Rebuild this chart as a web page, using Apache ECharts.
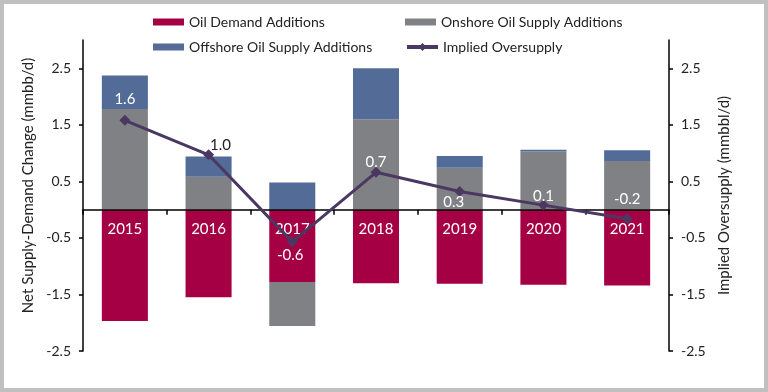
<!DOCTYPE html>
<html>
<head>
<meta charset="utf-8">
<script src="https://cdn.jsdelivr.net/npm/echarts@6/dist/echarts.min.js"></script>
<style>
  html, body { margin:0; padding:0; background:#c0c0c0; }
  #wrap { position:relative; width:768px; height:392px; background:#c0c0c0; }
  #chart { position:absolute; left:4px; top:4px; width:760px; height:384px; background:#ffffff; }
</style>
</head>
<body>
<div id="wrap"><div id="chart"></div></div>
<script>
const years = ['2015', '2016', '2017', '2018', '2019', '2020', '2021'];
const demandAdditions = [-1.97, -1.55, -1.28, -1.30, -1.31, -1.33, -1.34];
const onshoreAdditions = [1.78, 0.58, -0.78, 1.60, 0.74, 1.03, 0.86];
const offshoreAdditions = [0.59, 0.36, 0.48, 0.90, 0.21, 0.03, 0.19];
const impliedOversupply = [1.58, 0.97, -0.57, 0.66, 0.32, 0.08, -0.16];
const yTickValues = [-2.5, -1.5, -0.5, 0.5, 1.5, 2.5];

// label placement styles for the line's value labels (presentation only)
const lineLabelStyles = [
  { offset: [0, -21], color: '#ffffff' },
  { offset: [12, -10], color: '#222222' },
  { offset: [-2, 13], color: '#ffffff' },
  { offset: [0, -10], color: '#ffffff' },
  { offset: [-6, 11], color: '#ffffff' },
  { offset: [0, -9], color: '#ffffff' },
  { offset: [0, -20], color: '#ffffff' }
];

const FONT = 'Lato';
const chart = echarts.init(document.getElementById('chart'), null, { renderer: 'canvas' });

const yAxisCommon = {
  type: 'value',
  min: -2.5,
  max: 3,
  interval: 1,
  splitLine: { show: false },
  axisLine: { show: true, lineStyle: { color: '#000', width: 1.5 } },
  axisTick: { show: true, length: 4, customValues: yTickValues, lineStyle: { color: '#000', width: 1.5 } },
  axisLabel: { customValues: yTickValues, color: '#222', fontFamily: FONT, fontSize: 14, margin: 12 },
  nameLocation: 'middle',
  nameRotate: 90,
  nameTextStyle: { color: '#222', fontFamily: FONT, fontSize: 15 }
};

const legendText = { color: '#222', fontFamily: FONT, fontSize: 14, lineHeight: 16 };
function mkLegend(name, left, top, isLine) {
  return {
    left: left, top: top, itemWidth: 31, itemHeight: isLine ? 10 : 7,
    data: [isLine ? { name: name, lineStyle: { width: 4 } } : { name: name, icon: 'rect' }],
    textStyle: legendText
  };
}

const option = {
  animation: false,
  textStyle: { fontFamily: FONT },
  grid: { left: 79, right: 95, top: 36, bottom: 37 },
  legend: [
    mkLegend('Oil Demand Additions', 144, 5, false),
    mkLegend('Offshore Oil Supply Additions', 144, 30, false),
    mkLegend('Onshore Oil Supply Additions', 396, 5, false),
    mkLegend('Implied Oversupply', 396, 30, true)
  ],
  xAxis: {
    type: 'category',
    data: years,
    z: 10,
    axisLine: { onZero: true, onZeroAxisIndex: 0, lineStyle: { color: '#000', width: 1.5 } },
    axisTick: { show: true, length: 5, lineStyle: { color: '#000', width: 1.5 } },
    axisLabel: { show: false }
  },
  yAxis: [
    Object.assign({}, yAxisCommon, {
      position: 'left',
      name: 'Net Supply-Demand Change (mmbb/d)',
      nameGap: 38,
      nameTextStyle: { color: '#222', fontFamily: FONT, fontSize: 15, padding: [0, 0, 0, 20] }
    }),
    Object.assign({}, yAxisCommon, {
      position: 'right',
      name: 'Implied Oversupply (mmbbl/d)',
      nameGap: 43
    })
  ],
  series: [
    {
      name: 'Oil Demand Additions', type: 'bar', stack: 'total', barWidth: '55%',
      itemStyle: { color: '#a50044' },
      label: {
        show: true, position: 'insideTop', distance: 12,
        formatter: '{b}', color: '#ffffff', fontFamily: FONT, fontSize: 15
      },
      data: demandAdditions
    },
    {
      name: 'Onshore Oil Supply Additions', type: 'bar', stack: 'total',
      itemStyle: { color: '#808184' },
      data: onshoreAdditions
    },
    {
      name: 'Offshore Oil Supply Additions', type: 'bar', stack: 'total',
      itemStyle: { color: '#536b97' },
      data: offshoreAdditions
    },
    {
      name: 'Implied Oversupply', type: 'line', yAxisIndex: 1, z: 20,
      symbol: 'diamond', symbolSize: 11,
      lineStyle: { color: '#4b3862', width: 3 },
      itemStyle: { color: '#4b3862' },
      data: impliedOversupply.map((v, i) => ({
        value: v,
        label: {
          show: true, position: 'inside',
          offset: lineLabelStyles[i].offset,
          color: lineLabelStyles[i].color,
          fontFamily: FONT, fontSize: 15,
          formatter: (p) => p.value.toFixed(1)
        }
      }))
    }
  ]
};

chart.setOption(option);
</script>
</body>
</html>
